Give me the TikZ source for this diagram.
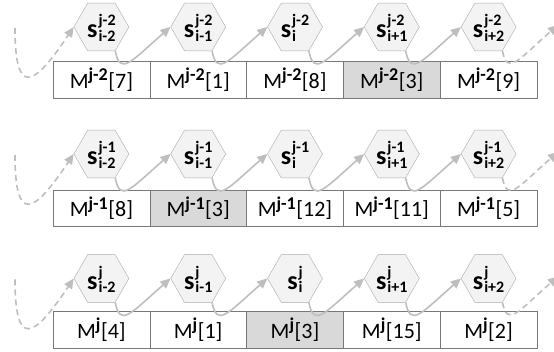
\documentclass[tikz,border=0pt]{standalone}
\usepackage{fontspec}
\setmainfont{Carlito}
\usepackage{tikz}
\usetikzlibrary{shapes.geometric,arrows.meta,positioning}

\definecolor{boxline}{RGB}{120,120,120}
\definecolor{cellgray}{RGB}{217,217,217}
\definecolor{hexfill}{RGB}{243,243,243}
\definecolor{hexline}{RGB}{170,170,170}
\definecolor{linkgray}{RGB}{190,190,190}

% s with its two indices stacked
\newcommand{\scr}{\fontsize{16}{16}\selectfont\bfseries}
\newcommand{\sv}[2]{\textbf{s}\hspace{1pt}{\scr\ooalign{\raisebox{12pt}{#1}\cr\raisebox{-3.5pt}{#2}\cr}}}
\newcommand{\mv}[2]{M\textsuperscript{\fontsize{18}{18}\selectfont\bfseries #1}[#2]}

\begin{document}
\begin{tikzpicture}[
    x=1pt, y=1pt,
    cell/.style={draw=boxline, fill=white, minimum width=96.8pt, minimum height=36.5pt,
        inner sep=0pt, outer sep=0pt, font=\fontsize{22}{24}\selectfont},
    hot/.style={cell, fill=cellgray},
    hex/.style={regular polygon, regular polygon sides=6,
        draw=hexline, fill=hexfill, minimum size=55pt, inner sep=0pt,
        text width=32pt, text height=25pt, text depth=3pt, align=center,
        font=\fontsize{26}{28}\selectfont},
    link/.style={-{Triangle[length=10pt,width=9pt]}, draw=linkgray, line width=1.6pt},
    loose/.style={link, dashed, dash pattern=on 6pt off 4pt}
]
    \useasboundingbox (0,0) rectangle (554,352);

    % row j-2
    \node[cell] (ma1) at (101.4,272.5) {\mv{j-2}{7}};
    \node[cell, right=0pt of ma1] (ma2) {\mv{j-2}{1}};
    \node[cell, right=0pt of ma2] (ma3) {\mv{j-2}{8}};
    \node[hot, right=0pt of ma3] (ma4) {\mv{j-2}{3}};
    \node[cell, right=0pt of ma4] (ma5) {\mv{j-2}{9}};
    \node[hex] (sa1) at (101.4,325) {\sv{j-2}{i-2}};
    \node[hex] (sa2) at (198.2,325) {\sv{j-2}{i-1}};
    \node[hex] (sa3) at (295,325) {\sv{j-2}{i}};
    \node[hex] (sa4) at (391.8,325) {\sv{j-2}{i+1}};
    \node[hex] (sa5) at (488.6,325) {\sv{j-2}{i+2}};

    % row j-1
    \node[cell] (mb1) at (101.4,144) {\mv{j-1}{8}};
    \node[hot, right=0pt of mb1] (mb2) {\mv{j-1}{3}};
    \node[cell, right=0pt of mb2] (mb3) {\mv{j-1}{12}};
    \node[cell, right=0pt of mb3] (mb4) {\mv{j-1}{11}};
    \node[cell, right=0pt of mb4] (mb5) {\mv{j-1}{5}};
    \node[hex] (sb1) at (101.4,198) {\sv{j-1}{i-2}};
    \node[hex] (sb2) at (198.2,198) {\sv{j-1}{i-1}};
    \node[hex] (sb3) at (295,198) {\sv{j-1}{i}};
    \node[hex] (sb4) at (391.8,198) {\sv{j-1}{i+1}};
    \node[hex] (sb5) at (488.6,198) {\sv{j-1}{i+2}};

    % row j
    \node[cell] (mc1) at (101.4,22.5) {\mv{j}{4}};
    \node[cell, right=0pt of mc1] (mc2) {\mv{j}{1}};
    \node[hot, right=0pt of mc2] (mc3) {\mv{j}{3}};
    \node[cell, right=0pt of mc3] (mc4) {\mv{j}{15}};
    \node[cell, right=0pt of mc4] (mc5) {\mv{j}{2}};
    \node[hex] (sc1) at (101.4,73.5) {\sv{j}{i-2}};
    \node[hex] (sc2) at (198.2,73.5) {\sv{j}{i-1}};
    \node[hex] (sc3) at (295,73.5) {\sv{j}{i}};
    \node[hex] (sc4) at (391.8,73.5) {\sv{j}{i+1}};
    \node[hex] (sc5) at (488.6,73.5) {\sv{j}{i+2}};

    % loose ends
    \coordinate (la) at (15,324);
    \coordinate (lb) at (15,197);
    \coordinate (lc) at (15,72.5);
    \coordinate (ra) at (558,327);
    \coordinate (rb) at (558,200);
    \coordinate (rc) at (558,75.5);

    \draw[loose] (la) .. controls +(0,-70) and +(-40,-60) .. (sa1.180);
    \draw[link] (sa1.300) .. controls +(5,-25) and +(-40,-35) .. (sa2.180);
    \draw[link] (sa2.300) .. controls +(5,-25) and +(-40,-35) .. (sa3.180);
    \draw[link] (sa3.300) .. controls +(5,-25) and +(-40,-35) .. (sa4.180);
    \draw[link] (sa4.300) .. controls +(5,-25) and +(-40,-35) .. (sa5.180);
    \draw[loose] (sa5.300) .. controls +(5,-25) and +(-40,-35) .. (ra);

    \draw[loose] (lb) .. controls +(0,-70) and +(-40,-60) .. (sb1.180);
    \draw[link] (sb1.300) .. controls +(5,-25) and +(-40,-35) .. (sb2.180);
    \draw[link] (sb2.300) .. controls +(5,-25) and +(-40,-35) .. (sb3.180);
    \draw[link] (sb3.300) .. controls +(5,-25) and +(-40,-35) .. (sb4.180);
    \draw[link] (sb4.300) .. controls +(5,-25) and +(-40,-35) .. (sb5.180);
    \draw[loose] (sb5.300) .. controls +(5,-25) and +(-40,-35) .. (rb);

    \draw[loose] (lc) .. controls +(0,-70) and +(-40,-60) .. (sc1.180);
    \draw[link] (sc1.300) .. controls +(5,-25) and +(-40,-35) .. (sc2.180);
    \draw[link] (sc2.300) .. controls +(5,-25) and +(-40,-35) .. (sc3.180);
    \draw[link] (sc3.300) .. controls +(5,-25) and +(-40,-35) .. (sc4.180);
    \draw[link] (sc4.300) .. controls +(5,-25) and +(-40,-35) .. (sc5.180);
    \draw[loose] (sc5.300) .. controls +(5,-25) and +(-40,-35) .. (rc);
\end{tikzpicture}
\end{document}
